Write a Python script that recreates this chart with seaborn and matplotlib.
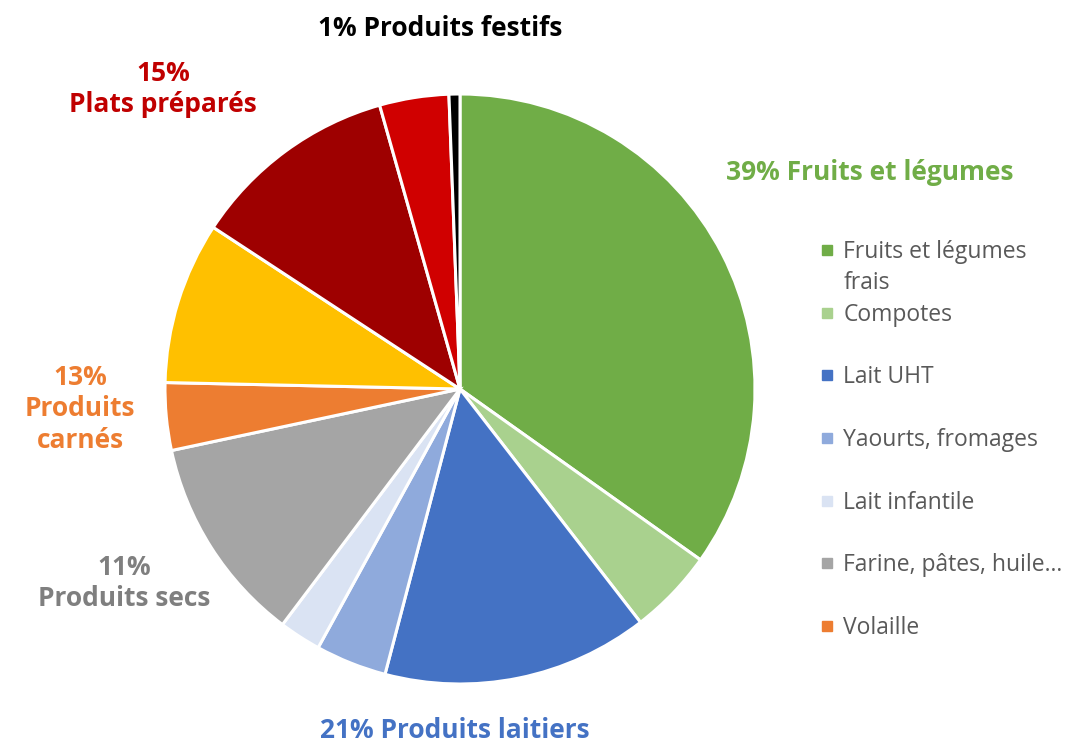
import matplotlib
matplotlib.use('Agg')
import matplotlib.pyplot as plt
import seaborn as sns
from matplotlib.lines import Line2D

# slices, clockwise from 12 o'clock
categories = ['Fruits et légumes frais', 'Compotes', 'Lait UHT', 'Yaourts, fromages',
              'Lait infantile', 'Farine, pâtes, huile…', 'Volaille', 'Viande',
              'Plats cuisinés', 'Conserves', 'Produits festifs']
shares = [34.9, 4.7, 14.6, 3.9, 2.3, 11.4, 3.7, 8.9, 11.4, 3.8, 0.6]
slice_colors = ['#70AD47', '#A9D18E', '#4472C4', '#8FAADC', '#DAE3F3', '#A5A5A5',
                '#ED7D31', '#FFC000', '#9E0000', '#D00000', '#000000']

# group labels written around the pie
group_labels = ['1% Produits festifs', '15%\nPlats préparés', '39% Fruits et légumes',
                '13%\nProduits\ncarnés', '11%\nProduits secs', '21% Produits laitiers']
group_colors = ['#000000', '#C00000', '#70AD47', '#ED7D31', '#7F7F7F', '#4472C4']
group_pos = [(440, 29), (163, 89), (870, 173), (80, 409), (124, 583), (455, 730)]

# legend only shows the first entries (truncated like in the original)
legend_labels = ['Fruits et légumes\nfrais', 'Compotes', 'Lait UHT', 'Yaourts, fromages',
                 'Lait infantile', 'Farine, pâtes, huile…', 'Volaille']

W, H = 1067, 742

sns.set_theme(style='white')
plt.rcParams['font.family'] = ['Open Sans', 'DejaVu Sans']

fig = plt.figure(figsize=(W / 100, H / 100), dpi=100)
cx, cy, r = 460, 389, 295
ax = fig.add_axes([(cx - r) / W, (H - cy - r) / H, 2 * r / W, 2 * r / H])
wedges, _ = ax.pie(shares, colors=slice_colors, startangle=90, counterclock=False,
                   radius=1, wedgeprops=dict(edgecolor='white', linewidth=2.2))
ax.set_xlim(-1, 1)
ax.set_ylim(-1, 1)
ax.axis('off')

for text, color, (px, py) in zip(group_labels, group_colors, group_pos):
    fig.text(px / W, 1 - py / H, text, ha='center', va='center', color=color,
             fontsize=19, fontweight='bold', linespacing=1.2)

# one legend row per text line; blank rows give the Excel-like spacing
blank = Line2D([], [], linestyle='none')
handles, labels = [], []
for i, lab in enumerate(legend_labels):
    parts = lab.split('\n')
    handles.append(Line2D([], [], marker='s', linestyle='none', markersize=7,
                          color=slice_colors[i]))
    labels.append(parts[0])
    for extra in parts[1:]:
        handles.append(blank)
        labels.append(extra)
    if i >= 1 and i < len(legend_labels) - 1:
        handles.append(blank)
        labels.append(' ')

fig.legend(handles, labels, loc='upper left', bbox_to_anchor=(818 / W, 1 - 240 / H),
           frameon=False, handlelength=0.8, handletextpad=0.3, borderpad=0,
           borderaxespad=0, labelspacing=0.32, labelcolor='#595959',
           prop={'family': 'Open Sans', 'size': 16.5})

fig.savefig('out.png', dpi=100)
